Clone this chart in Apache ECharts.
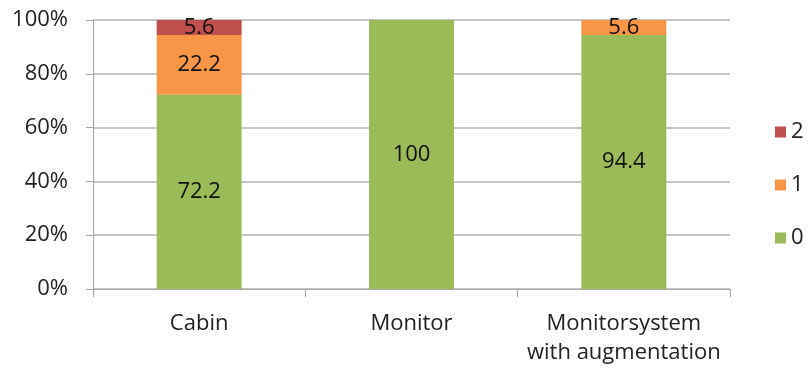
<!DOCTYPE html>
<html>
<head>
<meta charset="utf-8">
<script src="https://cdn.jsdelivr.net/npm/echarts@6/dist/echarts.min.js"></script>
<style>
  html, body { margin: 0; padding: 0; background: #fff; }
  #chart { width: 810px; height: 374px; }
</style>
</head>
<body>
<div id="chart"></div>
<script>
// Categories and shares (percent) for each rating level
const categories = ['Cabin', 'Monitor', 'Monitorsystem\nwith augmentation'];
const level0 = [72.2, 100, 94.4];
const level1 = [22.2, 0, 5.6];
const level2 = [5.6, 0, 0];
const yTicks = [0, 20, 40, 60, 80, 100];

const FONT = '"Open Sans", "Noto Sans", sans-serif';
const labelStyle = {
  show: true,
  position: 'inside',
  color: '#111',
  fontSize: 22,
  fontFamily: FONT,
  formatter: p => (p.value ? String(p.value) : '')
};

const chart = echarts.init(document.getElementById('chart'), null, { renderer: 'canvas' });
chart.setOption({
  animation: false,
  grid: { left: 93, right: 80, top: 20, bottom: 85 },
  legend: {
    data: ['2', '1', '0'],
    orient: 'vertical',
    left: 770,
    top: 116,
    itemWidth: 11,
    itemHeight: 11,
    itemGap: 31,
    itemTextGap: 7,
    icon: 'rect',
    textStyle: { fontSize: 22, color: '#222', fontFamily: FONT }
  },
  xAxis: {
    type: 'category',
    data: categories,
    axisLine: { lineStyle: { color: '#a6a6a6', width: 1 } },
    axisTick: { show: true, length: 8, lineStyle: { color: '#a6a6a6' } },
    axisLabel: {
      interval: 0, hideOverlap: false,
      color: '#222', fontSize: 22, fontFamily: FONT, margin: 20, lineHeight: 29
    }
  },
  yAxis: {
    type: 'value',
    min: yTicks[0],
    max: yTicks[yTicks.length - 1],
    interval: 20,
    axisLine: { show: true, lineStyle: { color: '#a6a6a6' } },
    axisTick: { show: true, length: 7, lineStyle: { color: '#a6a6a6' } },
    splitLine: { lineStyle: { color: '#b3b3b3', width: 1.5 } },
    axisLabel: { color: '#222', fontSize: 22, fontFamily: FONT, margin: 25, formatter: '{value}%' }
  },
  series: [
    { name: '0', type: 'bar', stack: 'total', data: level0, barWidth: '40%',
      itemStyle: { color: '#9BBB59' }, label: labelStyle },
    { name: '1', type: 'bar', stack: 'total', data: level1, barWidth: '40%',
      itemStyle: { color: '#F79646' }, label: labelStyle },
    { name: '2', type: 'bar', stack: 'total', data: level2, barWidth: '40%',
      itemStyle: { color: '#C0504D' }, label: labelStyle }
  ]
});
</script>
</body>
</html>
